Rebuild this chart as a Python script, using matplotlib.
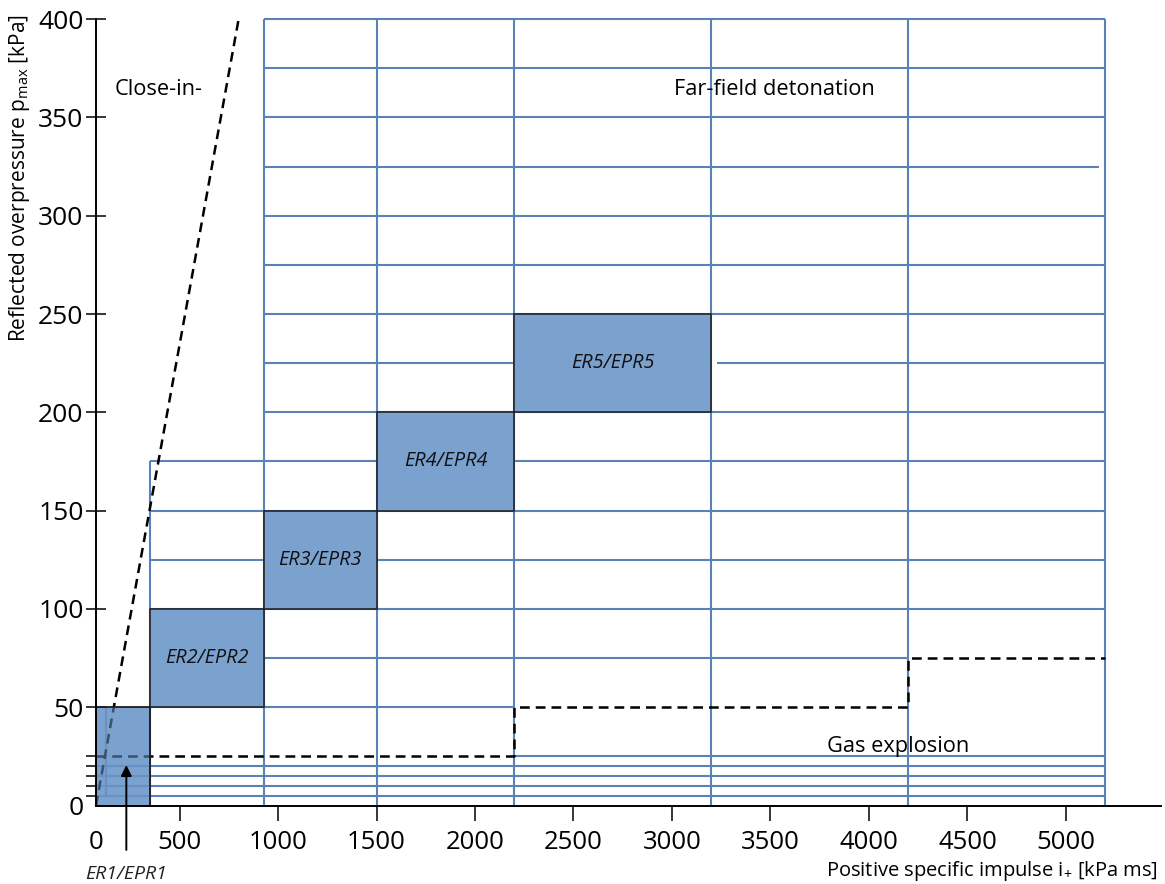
import matplotlib.pyplot as plt
from matplotlib.patches import Rectangle

plt.rcParams['font.family'] = ['Open Sans', 'DejaVu Sans']
plt.rcParams['mathtext.fontset'] = 'custom'
plt.rcParams['mathtext.rm'] = 'Open Sans'
plt.rcParams['mathtext.it'] = 'Open Sans:italic'

GRID_BLUE = '#5a82b8'
FILL_BLUE = '#7ba1cf'

# axis range (the y axis sits a little right of impulse 0 in the original)
x_range = (76, 5480)
y_range = (0, 400)

x_ticks = [76, 500, 1000, 1500, 2000, 2500, 3000, 3500, 4000, 4500, 5000]
x_tick_labels = ['0', '500', '1000', '1500', '2000', '2500', '3000',
                 '3500', '4000', '4500', '5000']
y_ticks = [0, 50, 100, 150, 200, 250, 300, 350, 400]
y_minor_ticks = [5, 10, 15, 20, 25]

# class boxes: (label, i_min, i_max, p_min, p_max)
er_boxes = [('ER2/EPR2', 350, 930, 50, 100),
            ('ER3/EPR3', 930, 1500, 100, 150),
            ('ER4/EPR4', 1500, 2200, 150, 200),
            ('ER5/EPR5', 2200, 3200, 200, 250)]
er1_box = (76, 350, 0, 50)

# horizontal grid segments: (pressure, start, end)
h_lines = [(400, 930, 5200), (375, 930, 5200), (350, 930, 5200),
           (325, 930, 5170), (300, 930, 5200), (275, 930, 5200),
           (250, 930, 5200), (225, 930, 2200), (225, 3230, 5200),
           (200, 930, 5200), (175, 350, 5200), (150, 350, 5200),
           (125, 350, 5200), (100, 350, 5200), (75, 350, 4200),
           (50, 350, 2200), (25, 2200, 5200), (20, 76, 5200),
           (15, 76, 5200), (10, 76, 5200), (5, 76, 5200)]
# vertical grid segments: (impulse, p_start, p_end)
v_lines = [(127, 5, 50), (350, 0, 175), (930, 0, 400), (1500, 0, 400),
           (2200, 0, 400), (3200, 0, 400), (4200, 0, 400), (5200, 0, 400)]

# dashed boundaries
close_in_x = [76, 800]
close_in_y = [0, 400]
gas_x = [76, 2200, 2200, 4200, 4200, 5200]
gas_y = [25, 25, 50, 50, 75, 75]

fig = plt.figure(figsize=(11.65, 8.84), dpi=100)
ax = fig.add_axes([96 / 1165, 78.5 / 884, 1064.5 / 1165, 786.3 / 884])
ax.set_xlim(*x_range)
ax.set_ylim(*y_range)

x0, x1, y0, y1 = er1_box
ax.add_patch(Rectangle((x0, y0), x1 - x0, y1 - y0, facecolor=FILL_BLUE,
                       edgecolor='none', zorder=1))

for p, a, b in h_lines:
    ax.plot([a, b], [p, p], color=GRID_BLUE, lw=1.5, zorder=2,
            clip_on=False, solid_capstyle='butt')
for i, a, b in v_lines:
    ax.plot([i, i], [a, b], color=GRID_BLUE, lw=1.5, zorder=2,
            clip_on=False, solid_capstyle='butt')

dash = (0, (3.9, 2.4))
ax.plot(close_in_x, close_in_y, color='black', lw=1.8, linestyle=dash,
        zorder=3, clip_on=False)
ax.plot(gas_x, gas_y, color='black', lw=1.8, linestyle=dash, zorder=3,
        clip_on=False)

for label, bx0, bx1, by0, by1 in er_boxes:
    ax.add_patch(Rectangle((bx0, by0), bx1 - bx0, by1 - by0,
                           facecolor=FILL_BLUE, edgecolor='#1c1c1c',
                           lw=1.1, zorder=4))
    ax.text((bx0 + bx1) / 2, (by0 + by1) / 2, label, ha='center',
            va='center', fontsize=14.3, style='italic', color='#111111',
            zorder=5)

# ER1 sits over the lines half see-through, so they show darker inside
ax.add_patch(Rectangle((x0, y0), x1 - x0, y1 - y0, facecolor=FILL_BLUE,
                       edgecolor='none', alpha=0.5, zorder=6))
ax.add_patch(Rectangle((x0, y0), x1 - x0, y1 - y0, facecolor='none',
                       edgecolor='#1c1c1c', lw=1.3, zorder=6))
ax.annotate('', xy=(230, 22), xytext=(230, -24), annotation_clip=False,
            arrowprops=dict(arrowstyle='-|>', color='black', lw=1.4,
                            mutation_scale=16), zorder=7)
ax.text(228, -35, 'ER1/EPR1', ha='center', va='center', fontsize=14,
        style='italic', color='#222222')

ax.text(173, 364, 'Close-in-', ha='left', va='center', fontsize=15.7)
ax.text(3518, 364, 'Far-field detonation', ha='center', va='center',
        fontsize=15.7)
ax.text(4147, 30, 'Gas explosion', ha='center', va='center', fontsize=15.7)

# axes
for side in ['top', 'right']:
    ax.spines[side].set_visible(False)
for side in ['left', 'bottom']:
    ax.spines[side].set_linewidth(1.4)
    ax.spines[side].set_zorder(8)

ax.set_xticks(x_ticks)
ax.set_xticklabels(x_tick_labels, fontsize=18.5)
ax.set_yticks(y_ticks)
ax.set_yticklabels([str(v) for v in y_ticks], fontsize=19)
ax.set_yticks(y_minor_ticks, minor=True)
ax.tick_params(axis='x', direction='out', length=10.8, width=1.1, pad=7)
ax.tick_params(axis='y', which='major', direction='inout', length=15,
               width=1.1, pad=1.5)
ax.tick_params(axis='y', which='minor', direction='out', length=7.2,
               width=1.1)
ax.xaxis.get_major_ticks()[0].tick1line.set_visible(False)
ax.yaxis.get_major_ticks()[0].tick1line.set_visible(False)

fig.text(20 / 1165, 1 - 14 / 884,
         'Reflected overpressure p$_{\\mathrm{max}}$ [kPa]',
         rotation=90, ha='center', va='top', fontsize=15)
fig.text(1158 / 1165, 1 - 883 / 884,
         'Positive specific impulse i$_{+}$ [kPa ms]',
         ha='right', va='bottom', fontsize=14.5)

fig.savefig('out.png', dpi=100)
